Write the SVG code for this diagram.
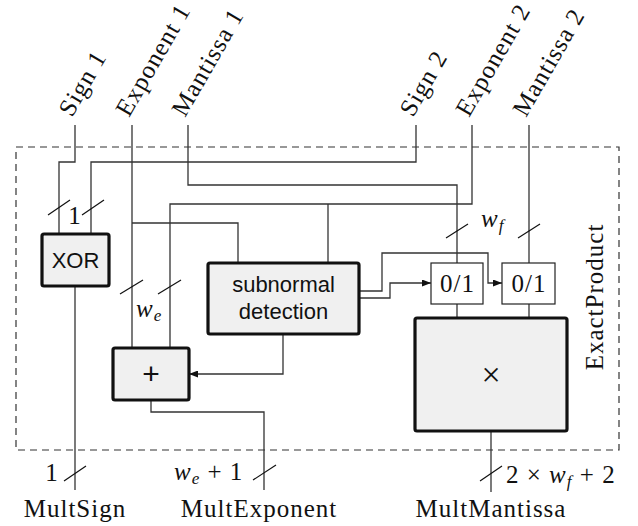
<svg xmlns="http://www.w3.org/2000/svg" width="638" height="526" viewBox="0 0 638 526">
<style>
.w{fill:none;stroke:#333;stroke-width:1.3}
.tk{fill:none;stroke:#111;stroke-width:1.2}
.blk{fill:#f0f0f0;stroke:#111;stroke-width:3.2}
.mx{fill:#fff;stroke:#222;stroke-width:1.2}
.sf{font-family:"Liberation Serif","Times New Roman",serif;font-size:25px;letter-spacing:1px;fill:#111}
.ss{font-family:"Liberation Sans",Arial,sans-serif;font-size:22px;fill:#111}
.it{font-style:italic}
.sub{font-style:italic;font-size:17px}
</style>
<defs>
<marker id="ah" markerWidth="9" markerHeight="7" refX="9" refY="3.5" orient="auto" markerUnits="userSpaceOnUse">
<path d="M0,0 L9,3.5 L0,7 z" fill="#111"/>
</marker>
</defs>
<rect id="frame" x="16" y="147" width="603" height="303" fill="none" stroke="#333" stroke-width="1.2" stroke-dasharray="7 5"/>
<text class="sf" transform="translate(603,297) rotate(-90)" text-anchor="middle">ExactProduct</text>
<g id="inputs">
<text class="sf" transform="translate(72,118) rotate(-60)">Sign 1</text>
<text class="sf" transform="translate(129,118) rotate(-60)">Exponent 1</text>
<text class="sf" transform="translate(185,118) rotate(-60)">Mantissa 1</text>
<text class="sf" transform="translate(413,118) rotate(-60)">Sign 2</text>
<text class="sf" transform="translate(469,118) rotate(-60)">Exponent 2</text>
<text class="sf" transform="translate(526,118) rotate(-60)">Mantissa 2</text>
</g>
<g id="connectors">
<polyline class="w" points="75,125 75,162 59,162 59,234"/>
<polyline class="w" points="416,125 416,162 91,162 91,234"/>
<polyline class="w" points="132,125 132,348"/>
<polyline class="w" points="132,223 238,223 238,263"/>
<polyline class="w" points="188,125 188,185 457,185 457,263"/>
<polyline class="w" points="472,125 472,204 170,204 170,348"/>
<polyline class="w" points="328,204 328,263"/>
<polyline class="w" points="529,125 529,263"/>
<polyline class="w" points="457,304 457,318"/>
<polyline class="w" points="529,304 529,318"/>
<polyline class="w" points="359,291 382,291 382,253 488,253 488,283 502,283" marker-end="url(#ah)"/>
<polyline class="w" points="359,298 390,298 390,283 431,283" marker-end="url(#ah)"/>
<polyline class="w" points="283,334 283,374 189,374" marker-end="url(#ah)"/>
<polyline class="w" points="75,286 75,490"/>
<polyline class="w" points="151,400 151,412 264,412 264,490"/>
<polyline class="w" points="491,431 491,492"/>
<line class="tk" x1="48" y1="215" x2="70" y2="200"/>
<line class="tk" x1="82" y1="215" x2="104" y2="200"/>
<line class="tk" x1="120" y1="294" x2="143" y2="280"/>
<line class="tk" x1="158" y1="294" x2="181" y2="280"/>
<line class="tk" x1="446" y1="238" x2="468" y2="224"/>
<line class="tk" x1="518" y1="238" x2="540" y2="224"/>
<line class="tk" x1="64" y1="481" x2="86" y2="466"/>
<line class="tk" x1="253" y1="480" x2="276" y2="465"/>
<line class="tk" x1="480" y1="481" x2="502" y2="466"/>
</g>
<g id="labels">
<text class="sf" x="75" y="224" text-anchor="middle">1</text>
<text class="sf" x="136" y="317"><tspan class="it">w</tspan><tspan class="sub" dy="4">e</tspan></text>
<text class="sf" x="481" y="227"><tspan class="it">w</tspan><tspan class="sub" dy="4">f</tspan></text>
<text class="sf" x="52" y="481" text-anchor="middle">1</text>
<text class="sf" x="174" y="480"><tspan class="it">w</tspan><tspan class="sub" dy="4">e</tspan><tspan dy="-4"> + 1</tspan></text>
<text class="sf" x="506" y="483">2 × <tspan class="it">w</tspan><tspan class="sub" dy="4">f</tspan><tspan dy="-4"> + 2</tspan></text>
<text class="sf" x="75" y="517" text-anchor="middle">MultSign</text>
<text class="sf" x="259" y="517" text-anchor="middle">MultExponent</text>
<text class="sf" x="491" y="517" text-anchor="middle">MultMantissa</text>
</g>
<g id="xor">
<rect class="blk" x="42" y="234" width="67" height="52" rx="2"/>
<text class="ss" x="75.5" y="268" text-anchor="middle">XOR</text>
</g>
<g id="subnormal">
<rect class="blk" x="208" y="263" width="151" height="71" rx="2"/>
<text class="ss" x="283.5" y="292" text-anchor="middle">subnormal</text>
<text class="ss" x="283.5" y="319" text-anchor="middle">detection</text>
</g>
<g id="adder">
<rect class="blk" x="113" y="348" width="76" height="52" rx="2"/>
<text class="ss" x="151" y="384" text-anchor="middle" style="font-size:30px">+</text>
</g>
<g id="mux1">
<rect class="mx" x="431" y="263" width="52" height="41"/>
<text class="sf" x="457.5" y="292" text-anchor="middle">0/1</text>
</g>
<g id="mux2">
<rect class="mx" x="502" y="263" width="53" height="41"/>
<text class="sf" x="529" y="292" text-anchor="middle">0/1</text>
</g>
<g id="multiplier">
<rect class="blk" x="415" y="318" width="152" height="113" rx="2"/>
<text class="sf" x="491" y="386" text-anchor="middle" style="font-size:34px;letter-spacing:0">×</text>
</g>
</svg>
